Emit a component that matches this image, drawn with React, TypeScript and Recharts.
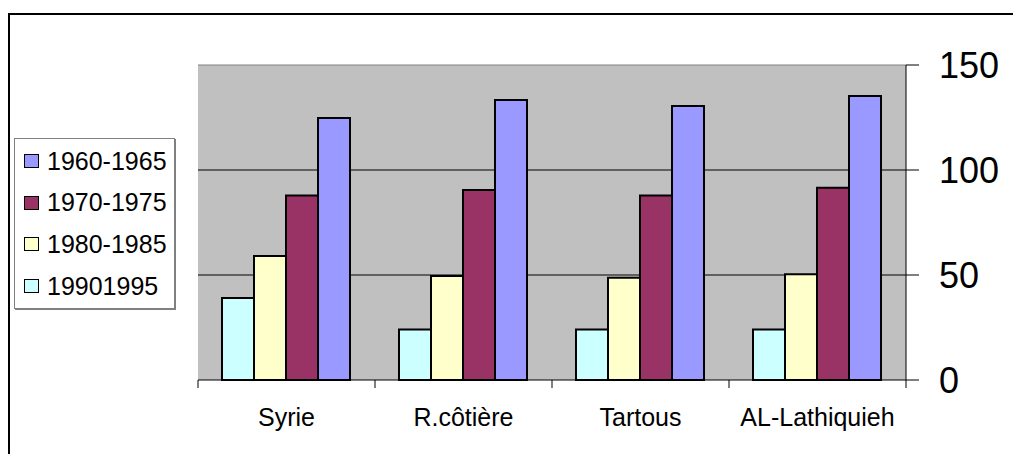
import { Bar, BarChart, CartesianGrid, ReferenceLine, XAxis, YAxis } from 'recharts';

const regions = ['Syrie', 'R.côtière', 'Tartous', 'AL-Lathiquieh'];
const p1990 = [39, 24, 24, 24];
const p1980 = [59, 49.5, 48.7, 50.3];
const p1970 = [87.8, 90.5, 87.8, 91.6];
const p1960 = [124.8, 133.3, 130.5, 135.2];
const yTicks = [0, 50, 100, 150];

const series = [
	{ key: 'p1990', label: '19901995', color: '#CCFFFF' },
	{ key: 'p1980', label: '1980-1985', color: '#FFFFCC' },
	{ key: 'p1970', label: '1970-1975', color: '#993366' },
	{ key: 'p1960', label: '1960-1965', color: '#9999FF' },
];

const data = regions.map((name, i) => ({
	name,
	p1990: p1990[i],
	p1980: p1980[i],
	p1970: p1970[i],
	p1960: p1960[i],
}));

const font = 'Arial, "Liberation Sans", sans-serif';
const HALF_BAND = 88.5;

function CategoryTick(props: any) {
	const { x, y, payload, index } = props;
	return (
		<g>
			<line x1={x - HALF_BAND} y1={y} x2={x - HALF_BAND} y2={y + 8} stroke='#000' />
			{index === regions.length - 1 && (
				<line x1={x + HALF_BAND} y1={y} x2={x + HALF_BAND} y2={y + 8} stroke='#000' />
			)}
			<text x={x} y={y + 46} textAnchor='middle' fontSize={25} fontFamily={font} fill='#000'>
				{payload.value}
			</text>
		</g>
	);
}

export default function App() {
	return (
		<div style={{ position: 'absolute', left: 0, top: 0, width: 1013, height: 454, overflow: 'hidden', background: '#fff' }}>
			<div style={{ position: 'absolute', left: 8, top: 13, width: 1100, height: 500, border: '2px solid #000' }} />
			<div style={{ position: 'absolute', left: 0, top: 0 }}>
				<BarChart
					width={1013}
					height={454}
					data={data}
					margin={{ top: 65, right: 0, left: 198, bottom: 0 }}
					barCategoryGap={24}
					barGap={0}
				>
					<CartesianGrid vertical={false} horizontalValues={[50, 100]} stroke='#000' fill='#C0C0C0' fillOpacity={1} />
					<XAxis
						dataKey='name'
						height={74}
						axisLine={{ stroke: '#000' }}
						tickLine={false}
						tickSize={0}
						tickMargin={0}
						interval={0}
						tick={<CategoryTick />}
					/>
					<YAxis
						orientation='right'
						width={107}
						domain={[0, 150]}
						ticks={yTicks}
						interval={0}
						axisLine={{ stroke: '#000' }}
						tickLine={{ stroke: '#000' }}
						tickSize={13}
						tickMargin={20}
						tick={{ fontSize: 36, fontFamily: font, fill: '#000' }}
					/>
					<ReferenceLine y={150} stroke='#808080' />
					{series.map((s) => (
						<Bar key={s.key} dataKey={s.key} fill={s.color} stroke='#000' strokeWidth={2} isAnimationActive={false} />
					))}
				</BarChart>
			</div>
			<div
				style={{
					position: 'absolute',
					left: 14,
					top: 138,
					width: 159,
					height: 169,
					border: '1px solid #808080',
					boxShadow: '1px 1px 0 #808080',
					background: '#fff',
					fontFamily: font,
					fontSize: 25,
				}}
			>
				{[...series].reverse().map((s, i) => (
					<div
						key={s.key}
						style={{ position: 'absolute', left: 9, top: 4 + i * 41.7, height: 36, display: 'flex', alignItems: 'center', whiteSpace: 'nowrap' }}
					>
						<span style={{ display: 'inline-block', width: 13, height: 12, background: s.color, border: '1.5px solid #000', marginRight: 8 }} />
						<span>{s.label}</span>
					</div>
				))}
			</div>
		</div>
	);
}
